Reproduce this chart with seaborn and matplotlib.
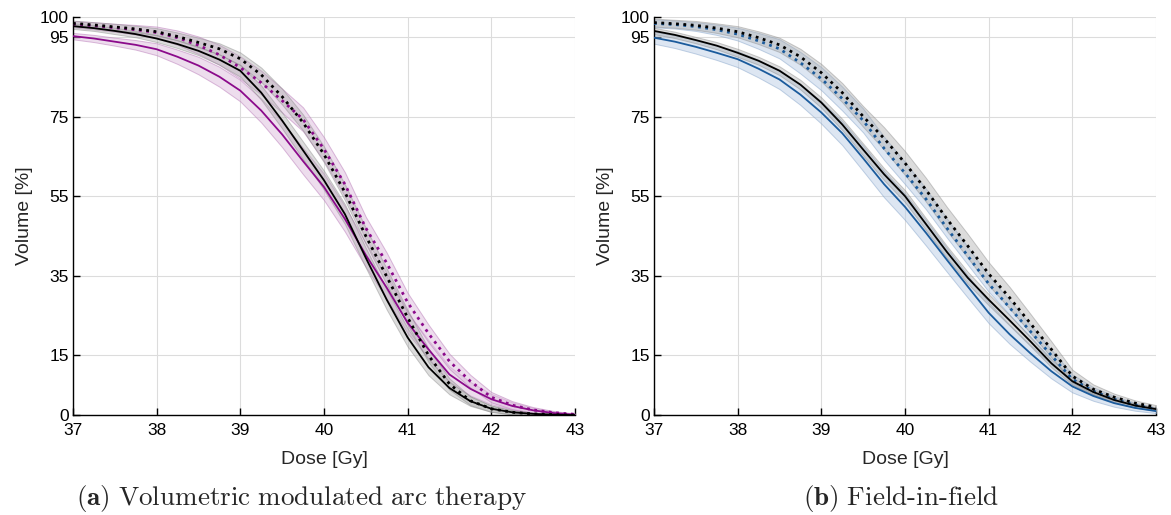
""" DVH comparison: VMAT vs field-in-field """

import numpy as np
import pandas as pd
import matplotlib
matplotlib.use("Agg")
import matplotlib.pyplot as plt
import seaborn as sns

# Dose axis [Gy]
dose = [37, 37.25, 37.5, 37.75, 38, 38.25, 38.5, 38.75, 39, 39.25, 39.5, 39.75,
        40, 40.25, 40.5, 40.75, 41, 41.25, 41.5, 41.75, 42, 42.25, 42.5, 42.75, 43]

# (a) VMAT - volume [%]
vmat_ref_solid = [97.7, 97.2, 96.5, 95.7, 94.6, 93.2, 91.5, 89.3, 86.5, 81.0, 74.0, 66.5,
                  59.0, 50.5, 39.5, 29.0, 19.5, 12.0, 6.8, 3.5, 1.6, 0.7, 0.3, 0.1, 0.0]
vmat_ref_dot = [98.4, 98.0, 97.5, 97.0, 96.3, 95.1, 93.6, 92.0, 89.5, 85.5, 80.0, 73.5,
                65.5, 56.0, 45.0, 34.8, 24.5, 15.0, 7.8, 3.6, 1.6, 0.7, 0.3, 0.1, 0.0]
vmat_solid = [95.2, 94.6, 93.8, 93.0, 91.9, 90.0, 87.8, 85.0, 81.5, 76.5, 70.5, 63.8,
              57.3, 49.3, 40.2, 32.0, 23.2, 16.5, 10.2, 6.6, 4.0, 2.3, 1.2, 0.5, 0.1]
vmat_dot = [98.2, 97.8, 97.3, 96.8, 96.1, 94.8, 92.9, 90.5, 87.3, 83.5, 79.0, 74.3,
            66.8, 58.0, 47.0, 38.2, 28.3, 20.5, 13.5, 8.5, 4.5, 2.5, 1.3, 0.6, 0.2]

# band half-widths
vmat_ref_solid_w = [0.7, 0.7, 0.8, 0.8, 0.9, 1.0, 1.1, 1.3, 1.5, 1.8, 2.0, 2.2, 2.4,
                    2.5, 2.5, 2.5, 2.3, 2.0, 1.6, 1.2, 0.8, 0.5, 0.3, 0.2, 0.1]
vmat_ref_dot_w = [0.7, 0.7, 0.8, 0.8, 0.9, 1.0, 1.2, 1.4, 1.6, 1.8, 2.0, 2.0, 2.0,
                  2.0, 2.0, 2.0, 1.9, 1.7, 1.4, 1.1, 0.8, 0.5, 0.3, 0.2, 0.1]
vmat_solid_w = [0.8, 0.9, 1.0, 1.2, 1.5, 1.8, 2.2, 2.5, 2.7, 3.0, 3.2, 3.3, 3.3,
                3.2, 3.0, 2.8, 2.6, 2.3, 2.0, 1.7, 1.3, 0.9, 0.6, 0.4, 0.2]
vmat_dot_w = [0.8, 0.9, 1.0, 1.2, 1.5, 1.8, 2.2, 2.5, 2.8, 3.0, 3.0, 3.0, 3.0,
              3.0, 2.8, 2.6, 2.4, 2.2, 1.9, 1.6, 1.3, 1.0, 0.7, 0.4, 0.2]

# (b) Field-in-field - volume [%]
fif_ref_solid = [96.5, 95.5, 94.2, 92.8, 91.0, 89.0, 86.5, 83.0, 78.5, 73.0, 66.7, 60.5,
                 55.0, 48.0, 41.0, 34.5, 29.0, 23.8, 18.5, 13.0, 8.5, 5.8, 3.8, 2.4, 1.5]
fif_ref_dot = [98.6, 98.3, 97.9, 97.2, 96.3, 94.8, 93.0, 90.0, 86.0, 81.0, 75.0, 69.5,
               63.3, 56.6, 49.3, 42.5, 35.5, 29.5, 23.0, 16.5, 9.8, 6.5, 4.5, 3.0, 2.0]
fif_solid = [94.8, 93.8, 92.5, 91.0, 89.4, 87.0, 84.3, 80.5, 76.0, 70.8, 64.5, 58.0,
             52.3, 45.8, 39.0, 32.3, 25.7, 20.3, 15.5, 11.0, 7.2, 4.8, 3.0, 1.8, 1.0]
fif_dot = [98.4, 98.1, 97.6, 96.8, 95.7, 94.0, 92.0, 88.5, 84.5, 79.5, 74.0, 67.0,
           60.8, 54.3, 47.0, 40.0, 33.0, 27.0, 21.0, 15.0, 9.0, 6.0, 4.0, 2.5, 1.5]

fif_ref_solid_w = [0.8, 0.8, 0.8, 0.9, 1.0, 1.0, 1.1, 1.2, 1.3, 1.4, 1.5, 1.5, 1.5,
                   1.5, 1.5, 1.5, 1.4, 1.3, 1.2, 1.0, 0.9, 0.7, 0.6, 0.5, 0.4]
fif_ref_dot_w = [1.0, 1.0, 1.1, 1.2, 1.4, 1.6, 1.8, 2.0, 2.2, 2.4, 2.6, 2.8, 3.0,
                 3.0, 3.0, 3.0, 2.9, 2.7, 2.4, 2.0, 1.6, 1.2, 0.9, 0.7, 0.5]
fif_solid_w = [1.5, 1.6, 1.7, 1.8, 2.0, 2.2, 2.4, 2.6, 2.8, 3.0, 3.2, 3.3, 3.3,
               3.2, 3.0, 2.8, 2.6, 2.4, 2.1, 1.8, 1.5, 1.2, 0.9, 0.7, 0.5]
fif_dot_w = [1.0, 1.0, 1.1, 1.3, 1.6, 2.0, 2.4, 2.7, 2.9, 3.0, 3.0, 2.9, 2.8,
             2.6, 2.4, 2.2, 2.0, 1.8, 1.6, 1.4, 1.2, 1.0, 0.8, 0.6, 0.4]

yticks = [0, 15, 35, 55, 75, 95, 100]
xticks = [37, 38, 39, 40, 41, 42, 43]

PURPLE = "#8b0a8b"
BLUE = "#1b5b9c"

sns.set_style("white")
plt.rcParams["font.family"] = ["Liberation Sans", "DejaVu Sans"]
plt.rcParams["mathtext.fontset"] = "cm"

fig = plt.figure(figsize=(11.71, 5.15), dpi=100)
axA = fig.add_axes([0.0623, 0.194, 0.4287, 0.773])
axB = fig.add_axes([0.5585, 0.194, 0.4287, 0.773])


def band(ax, vals, w, face, edge, alpha):
    v = np.array(vals)
    w = np.array(w)
    ax.fill_between(dose, np.clip(v - w, 0, 100), np.clip(v + w, 0, 100),
                    facecolor=face, edgecolor=edge, linewidth=0.7, alpha=alpha, zorder=2)


def curve(ax, vals, color, ls):
    df = pd.DataFrame({"dose": dose, "vol": vals})
    lw = 1.3 if ls == "-" else 2.0
    sns.lineplot(data=df, x="dose", y="vol", ax=ax, color=color, linestyle=ls,
                 linewidth=lw, zorder=4)


def panel(ax, series, caption, cx):
    # bands first, lines on top
    for vals, w, col, face, edge, ls, a in series:
        band(ax, vals, w, face, edge, a)
    for vals, w, col, face, edge, ls, a in series:
        curve(ax, vals, col, ls)
    ax.set_xlim(37, 43)
    ax.set_ylim(0, 100)
    ax.set_xticks(xticks)
    ax.set_yticks(yticks)
    ax.grid(True, color="#dcdcdc", linewidth=0.8, zorder=0)
    ax.set_axisbelow(True)
    for s in ["top", "right"]:
        ax.spines[s].set_visible(False)
    for s in ["left", "bottom"]:
        ax.spines[s].set_color("black")
        ax.spines[s].set_linewidth(1.0)
    ax.tick_params(direction="in", length=5, width=1, colors="black", labelsize=12.5,
                   left=True, bottom=True)
    ax.tick_params(axis="x", pad=6)
    ax.tick_params(axis="y", pad=3)
    ax.set_xlabel("Dose [Gy]", fontsize=14, labelpad=9)
    ax.set_ylabel("Volume [%]", fontsize=14, labelpad=5)
    fig.text(cx, 0.033, caption, ha="center", va="center", fontsize=19.5)


panel(axA, [
    (vmat_solid, vmat_solid_w, PURPLE, "#dcbcdc", "#b878b8", "-", 0.5),
    (vmat_dot, vmat_dot_w, PURPLE, "#dcbcdc", "#b878b8", ":", 0.5),
    (vmat_ref_solid, vmat_ref_solid_w, "black", "#a8a8a8", "#808080", "-", 0.4),
    (vmat_ref_dot, vmat_ref_dot_w, "black", "#a8a8a8", "#808080", ":", 0.4),
], r"$\mathbf{(a)}\ \mathrm{Volumetric\ modulated\ arc\ therapy}$", 0.257)

panel(axB, [
    (fif_solid, fif_solid_w, BLUE, "#bccfe6", "#86a4ca", "-", 0.5),
    (fif_dot, fif_dot_w, BLUE, "#bccfe6", "#86a4ca", ":", 0.5),
    (fif_ref_solid, fif_ref_solid_w, "black", "#a8a8a8", "#808080", "-", 0.4),
    (fif_ref_dot, fif_ref_dot_w, "black", "#a8a8a8", "#808080", ":", 0.4),
], r"$\mathbf{(b)}\ \text{Field-in-field}$", 0.769)

fig.savefig("out.png", dpi=100)
